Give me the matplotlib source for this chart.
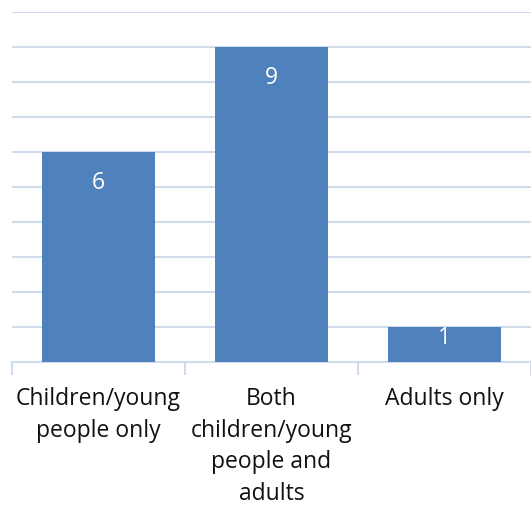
import matplotlib
matplotlib.use("Agg")
import matplotlib.pyplot as plt

categories = ["Children/young\npeople only", "Both\nchildren/young\npeople and\nadults", "Adults only"]
values = [6, 9, 1]

bar_color = "#4F81BD"
grid_color = "#D0DCEC"

fig = plt.figure(figsize=(5.31, 5.07), dpi=100)
W, H = 531, 507
ax = fig.add_axes([12 / W, (H - 362) / H, (531 - 12) / W, (362 - 12) / H])
ax.set_xlim(-0.5, 2.5)
ax.set_ylim(0, 10)

bars = ax.bar(range(len(values)), values, width=0.65, color=bar_color, zorder=3)

for y in range(1, 11):
    ax.axhline(y, color=grid_color, lw=1.5, zorder=1)

for s in ["left", "right", "top"]:
    ax.spines[s].set_visible(False)
ax.spines["bottom"].set_color(grid_color)
ax.spines["bottom"].set_linewidth(1.5)
ax.set_yticks([])
ax.set_xticks([-0.5, 0.5, 1.5, 2.5], minor=False)
ax.set_xticklabels([])
ax.tick_params(axis="x", which="major", length=9, width=1.5, color=grid_color)
ax.set_xticks(range(len(categories)), minor=True)
ax.set_xticklabels(categories, minor=True, fontsize=16.5, family="Open Sans",
                   color="#111111", linespacing=1.42, va="top")
ax.tick_params(axis="x", which="minor", length=0, pad=18)

px_per_unit = 350 / 10
for b, v in zip(bars, values):
    hpx = v * px_per_unit
    off = min(31, 0.3 * hpx)
    ax.annotate(str(v), (b.get_x() + b.get_width() / 2, v), xytext=(0, -off * 0.72),
                textcoords="offset points", ha="center", va="center",
                color="white", fontsize=16.5, family="Open Sans", zorder=4)

fig.savefig("out.png", dpi=100)
